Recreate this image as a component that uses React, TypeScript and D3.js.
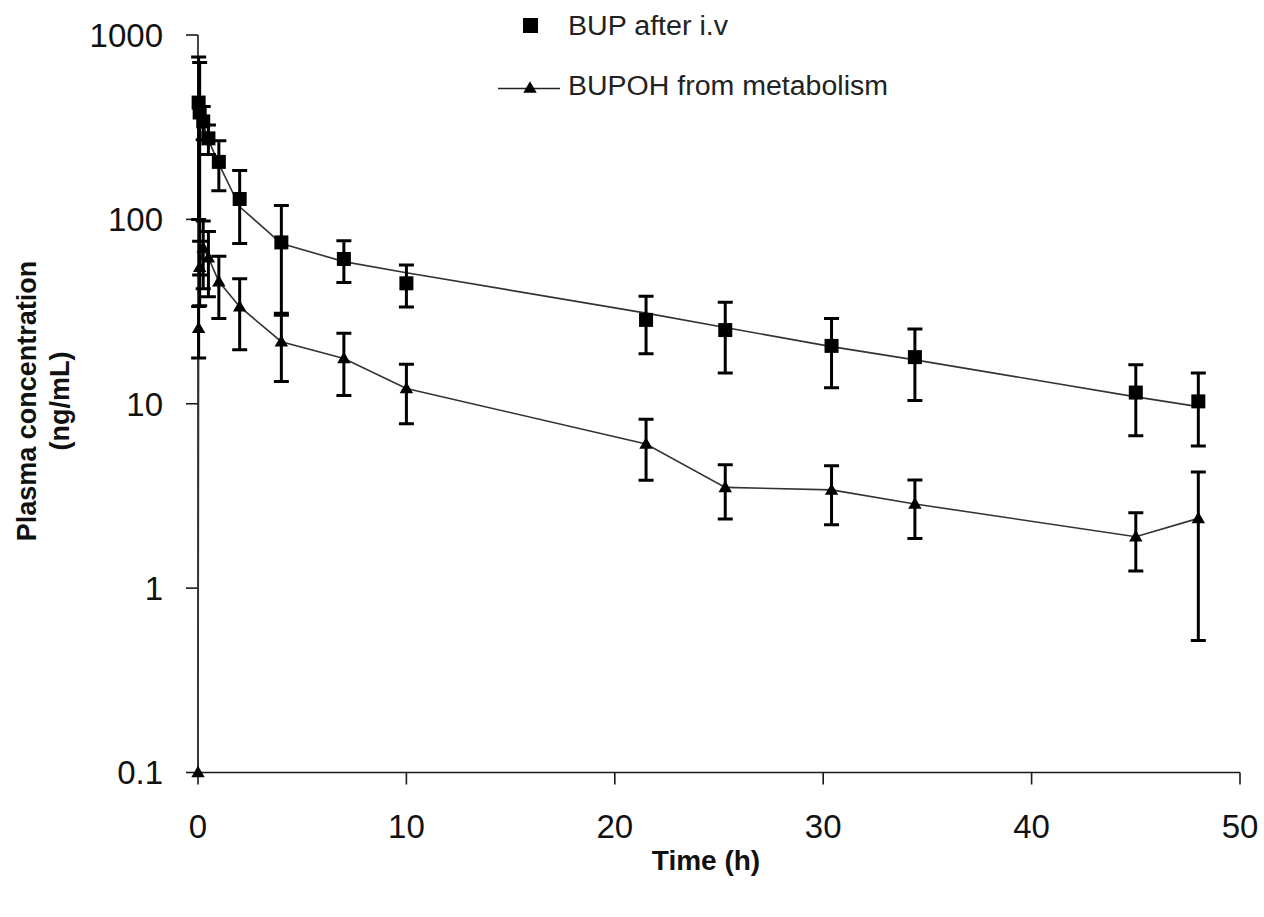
import * as d3 from 'd3'

// BUP after i.v (observed mean, SD) and the fitted curve through them
const bupTime = [0.03, 0.08, 0.25, 0.5, 1, 2, 4, 7, 10, 21.5, 25.3, 30.4, 34.4, 45, 48]
const bupMean = [430, 380, 340, 275, 205, 129, 75, 61, 45, 28.5, 25.1, 20.6, 17.9, 11.5, 10.3]
const bupSd = [330, 330, 70, 50, 62, 55, 44, 15.5, 11.5, 9.8, 10.4, 8.4, 7.5, 4.8, 4.4]
const bupFit = [450, 390, 330, 270, 200, 117, 74, 59, 51.4, 31, 25.9, 20.4, 17.3, 10.9, 9.65]

// BUPOH from metabolism
const bupohTime = [0, 0.03, 0.08, 0.25, 0.5, 1, 2, 4, 7, 10, 21.5, 25.3, 30.4, 34.4, 45, 48]
const bupohMean = [0.1, 25.7, 55, 70, 62, 46, 33.6, 21.7, 17.6, 12.1, 6.05, 3.52, 3.41, 2.86, 1.9, 2.39]
const bupohSd = [0, 8, 21, 28, 24, 17, 14, 8.5, 6.5, 4.3, 2.2, 1.15, 1.2, 1.0, 0.66, 1.87]

const xTicks = [0, 10, 20, 30, 40, 50]
const yTicks = [0.1, 1, 10, 100, 1000]
const yTickLabels = ['0.1', '1', '10', '100', '1000']

const font = '"Liberation Sans", Arial, sans-serif'

const x = d3.scaleLinear().domain([0, 50]).range([198, 1240])
const y = d3.scaleLog().domain([0.1, 1000]).range([772.5, 35])

const errBar = (t: number, m: number, sd: number) => {
  if (!sd) return ''
  const lo = Math.max(m - sd, 0.1)
  const hi = m + sd
  const cx = x(t)
  return `M${cx},${y(hi)}V${y(lo)}M${cx - 7.5},${y(hi)}H${cx + 7.5}M${cx - 7.5},${y(lo)}H${cx + 7.5}`
}

export default function App() {
  const fitPath = d3.line<number>()
    .x((_, i) => x(bupTime[i]))
    .y(d => y(d))(bupFit)

  const bupohPath = d3.line<number>()
    .x((_, i) => x(bupohTime[i]))
    .y(d => y(d))(bupohMean)

  const tri = d3.symbol().type(d3.symbolTriangle).size(78)()

  return (
    <div style={{ position: 'absolute', left: 0, top: 0 }}>
      <svg width={1264} height={917} style={{ display: 'block', background: '#fff' }}>
        {/* axes */}
        <g stroke="#1a1a1a" strokeWidth={1.6} fill="none">
          <path d={`M${x(0)},${y(1000)}V${y(0.1)}H${x(50)}`} />
          {yTicks.map(v => (
            <path key={v} d={`M${x(0) - 12},${y(v)}H${x(0)}`} />
          ))}
          {xTicks.map(v => (
            <path key={v} d={`M${x(v)},${y(0.1)}V${y(0.1) + 12}`} />
          ))}
        </g>
        <g fontFamily={font} fontSize={33} fill="#111">
          {yTicks.map((v, i) => (
            <text key={v} x={163} y={y(v)} dy="0.36em" textAnchor="end">
              {yTickLabels[i]}
            </text>
          ))}
          {xTicks.map(v => (
            <text key={v} x={x(v)} y={838} textAnchor="middle">
              {v}
            </text>
          ))}
        </g>
        <text x={706} y={870} textAnchor="middle" fontFamily={font} fontWeight="bold" fontSize={28} fill="#111">
          Time (h)
        </text>
        <g fontFamily={font} fontWeight="bold" fontSize={27} fill="#111" textAnchor="middle">
          <text transform="translate(36,401) rotate(-90)">Plasma concentration</text>
          <text transform="translate(69,401) rotate(-90)">(ng/mL)</text>
        </g>

        {/* lines */}
        <path d={fitPath ?? ''} fill="none" stroke="#333" strokeWidth={1.6} />
        <path d={bupohPath ?? ''} fill="none" stroke="#333" strokeWidth={1.6} />

        {/* error bars */}
        <g stroke="#000" strokeWidth={3} fill="none">
          {bupTime.map((t, i) => (
            <path key={'b' + i} d={errBar(t, bupMean[i], bupSd[i])} />
          ))}
          {bupohTime.map((t, i) => (
            <path key={'m' + i} d={errBar(t, bupohMean[i], bupohSd[i])} />
          ))}
        </g>

        {/* markers */}
        {bupTime.map((t, i) => (
          <rect key={'s' + i} x={x(t) - 7} y={y(bupMean[i]) - 7} width={14} height={14} fill="#000" />
        ))}
        {bupohTime.map((t, i) => (
          <path key={'t' + i} d={tri ?? ''} transform={`translate(${x(t)},${y(bupohMean[i]) + 1})`} fill="#000" />
        ))}

        {/* legend */}
        <rect x={523} y={18} width={15} height={15} fill="#000" />
        <text x={568} y={35} fontFamily={font} fontSize={27} fill="#222" textLength={160} lengthAdjust="spacingAndGlyphs">
          BUP after i.v
        </text>
        <path d="M498,88.5H560" stroke="#222" strokeWidth={1.6} />
        <path d={tri ?? ''} transform="translate(530,89)" fill="#000" />
        <text x={568} y={95} fontFamily={font} fontSize={27} fill="#222" textLength={320} lengthAdjust="spacingAndGlyphs">
          BUPOH from metabolism
        </text>
      </svg>
    </div>
  )
}
